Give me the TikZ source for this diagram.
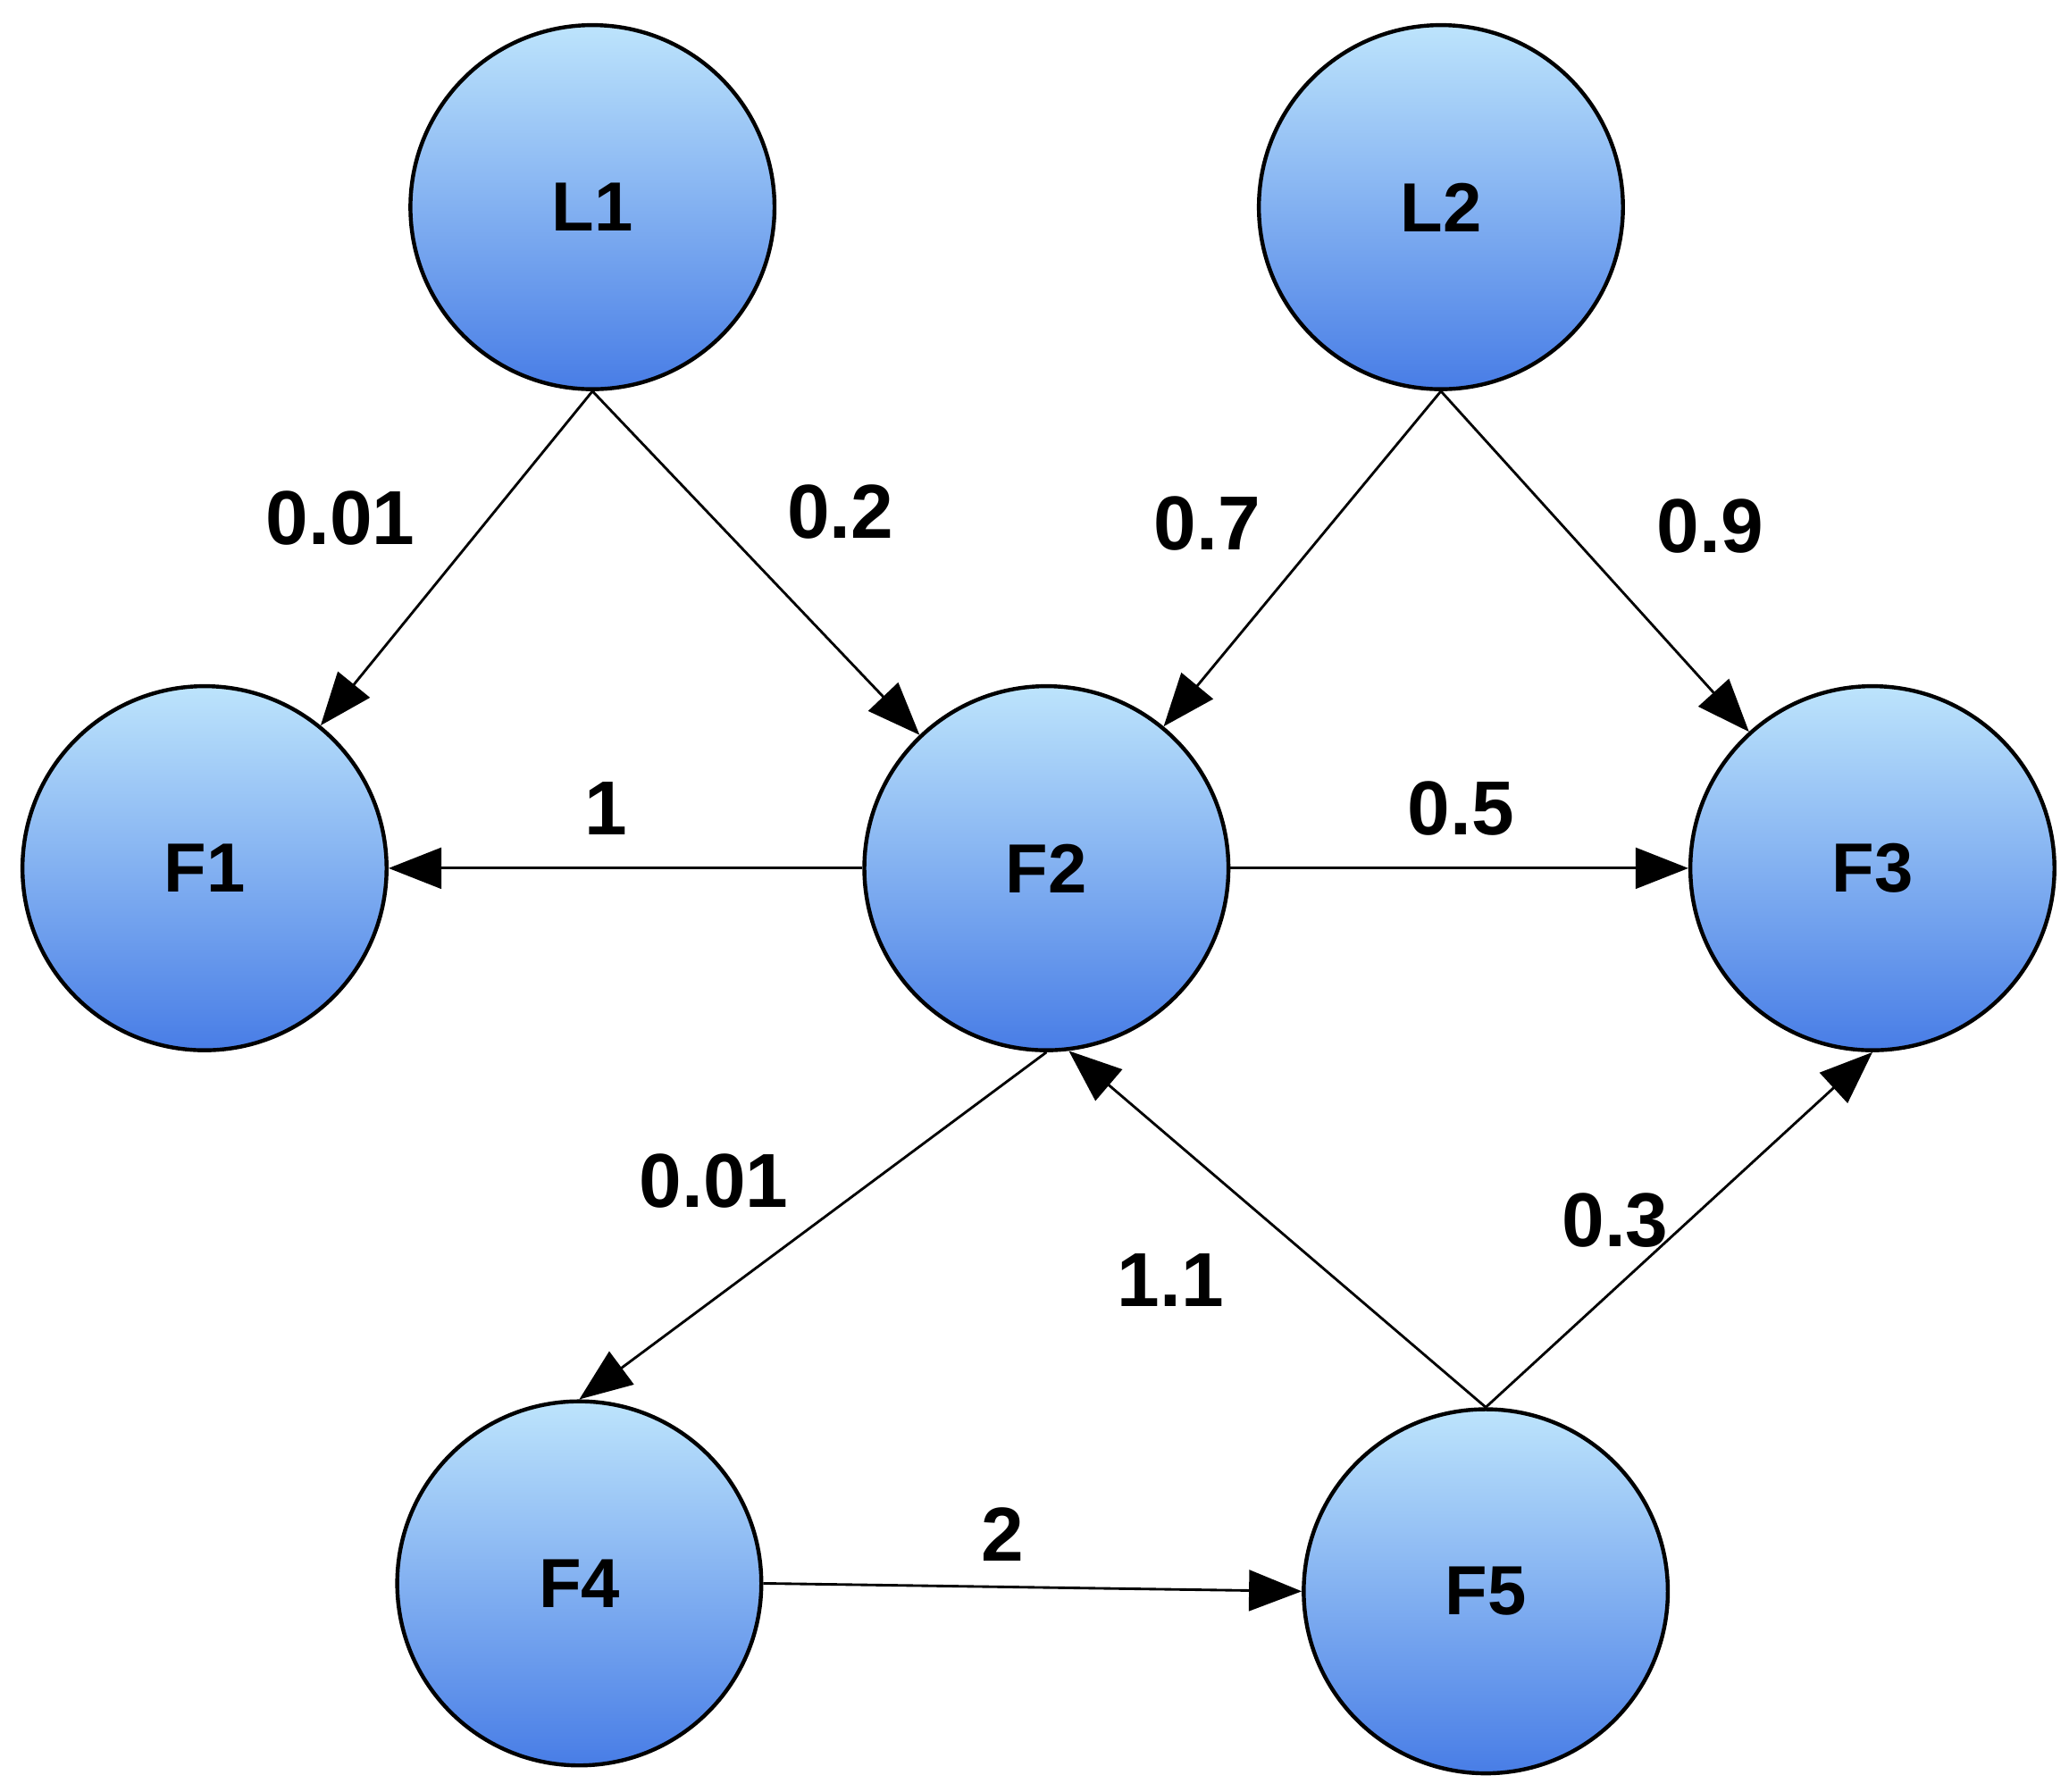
\documentclass[tikz,border=0pt]{standalone}
\usepackage{fontspec}
\setmainfont{Liberation Sans}
\usetikzlibrary{arrows.meta}
\begin{document}
\begin{tikzpicture}[x=0.02cm,y=-0.02cm,
  nd/.style={circle,draw=black,line width=1.7pt,minimum size=5.52cm,inner sep=0pt,
    top color={rgb,255:red,189;green,228;blue,252},bottom color={rgb,255:red,72;green,125;blue,230},
    font=\fontsize{30}{30}\selectfont\bfseries},
  ed/.style={line width=1.1pt,-{Triangle[length=0.8cm,width=0.62cm]}},
  lb/.style={font=\fontsize{33}{33}\selectfont\bfseries}]
\useasboundingbox (0,0) rectangle (1568,1358);
\node[nd] (L1) at (449,157) {L1};
\node[nd] (L2) at (1092,157) {L2};
\node[nd] (F1) at (155,658) {F1};
\node[nd] (F2) at (793,658) {F2};
\node[nd] (F3) at (1419,658) {F3};
\node[nd] (F4) at (439,1200) {F4};
\node[nd] (F5) at (1126,1206) {F5};
\draw[ed] (L1.south) -- (F1);
\draw[ed] (L1.south) -- (F2);
\draw[ed] (L2.south) -- (F2);
\draw[ed] (L2.south) -- (F3);
\draw[ed] (F2.west) -- (F1.east);
\draw[ed] (F2.east) -- (F3.west);
\draw[ed] (F2.south) -- (F4.north);
\draw[ed] (F5.north) -- (F2.-83);
\draw[ed] (F5.north) -- (F3.south);
\draw[ed] (F4.east) -- (F5.west);
\node[lb] (a) at (258,393) {0.01};
\node[lb] (b) at (637,388) {0.2};
\node[lb] (c) at (915,397) {0.7};
\node[lb] (d) at (1296,399) {0.9};
\node[lb] (e) at (459,613) {1};
\node[lb] (f) at (1107,613) {0.5};
\node[lb] (g) at (541,895) {0.01};
\node[lb] (h) at (887,970) {1.1};
\node[lb] (i) at (1224,925) {0.3};
\node[lb] (j) at (760,1163) {2};
\end{tikzpicture}
\end{document}
